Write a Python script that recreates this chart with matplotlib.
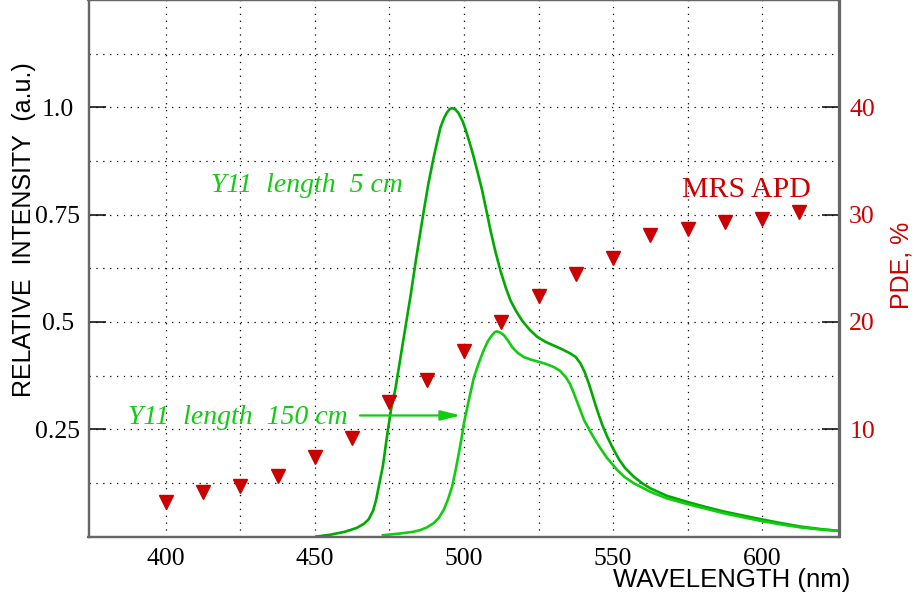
import matplotlib
matplotlib.use("Agg")
import matplotlib.pyplot as plt

# ---------------- data ----------------
wl_5cm = [450.5, 455, 460, 464, 466.5, 468, 469.5, 470.5, 471.5, 472.8, 474.4, 475.5, 477,
          479.7, 482, 484, 486.3, 488, 489.6, 491, 492.1, 493.3, 494.3, 495.2, 496,
          497, 498.2, 499.5, 500.5, 502, 503.3, 504.7, 506.1, 507.5, 508.9, 510.5,
          512.2, 514, 515.6, 517.5, 519.5, 522, 524.6, 527.5, 530.1, 533, 535.8,
          537.5, 539.1, 540.5, 541.9, 543.3, 544.7, 546.4, 548.1, 550, 552, 554,
          557, 560, 562.6, 568, 574.7, 581, 587.3, 593.5, 599.8, 606.5, 613.1, 620, 626]
int_5cm = [0.0, 0.004, 0.011, 0.020, 0.030, 0.040, 0.060, 0.085, 0.12, 0.165, 0.245, 0.295, 0.345,
           0.46, 0.558, 0.65, 0.75, 0.82, 0.876, 0.92, 0.953, 0.975, 0.988, 0.996, 0.998,
           0.996, 0.986, 0.968, 0.949, 0.915, 0.883, 0.845, 0.806, 0.76, 0.713, 0.665,
           0.62, 0.58, 0.55, 0.525, 0.503, 0.482, 0.465, 0.453, 0.445, 0.436, 0.426,
           0.418, 0.403, 0.383, 0.356, 0.325, 0.294, 0.26, 0.232, 0.205, 0.18, 0.16,
           0.139, 0.123, 0.112, 0.095, 0.081, 0.069, 0.058, 0.049, 0.040, 0.031, 0.023, 0.017, 0.013]

wl_150cm = [472.8, 478.6, 483, 485.3, 487.5, 489.8, 491.5, 493.2, 494.7, 496, 497.2,
            498.3, 499.2, 500, 501.6, 503.3, 505, 506.6, 508, 509.4, 510.3, 511.1,
            512.2, 513.4, 514.8, 516.2, 518, 520.1, 522.5, 524.6, 527.5, 530.1, 532.2,
            534.1, 535.6, 536.9, 538.6, 540.3, 542.5, 544.7, 546.5, 548, 551.4, 554,
            557, 562.6, 568, 574.7, 581, 587.3, 593.5, 599.8, 606.5, 613.1, 620, 626]
int_150cm = [0.003, 0.007, 0.011, 0.015, 0.021, 0.031, 0.043, 0.062, 0.088, 0.116, 0.155,
             0.195, 0.23, 0.265, 0.317, 0.37, 0.405, 0.434, 0.455, 0.469, 0.476, 0.478,
             0.475, 0.469, 0.456, 0.441, 0.428, 0.418, 0.412, 0.408, 0.402, 0.395, 0.386,
             0.372, 0.355, 0.333, 0.302, 0.271, 0.243, 0.217, 0.198, 0.183, 0.155, 0.138,
             0.124, 0.104, 0.089, 0.076, 0.065, 0.054, 0.045, 0.036, 0.028, 0.021, 0.016, 0.013]

wl_pde = [400, 412.5, 425, 437.5, 450, 462.5, 475, 487.5, 500, 512.5, 525, 537.5,
          550, 562.5, 575, 587.5, 600, 612.5]
pde = [3.2, 4.15, 4.75, 5.6, 7.4, 9.2, 12.5, 14.6, 17.3, 20.0, 22.4, 24.5,
       26.0, 28.1, 28.7, 29.35, 29.6, 30.25]

x_ticks = [400, 450, 500, 550, 600]
x_grid = [400, 425, 450, 475, 500, 525, 550, 575, 600]
y_ticks = [0.25, 0.5, 0.75, 1.0]
y_tick_labels = ["0.25", "0.5", "0.75", "1.0"]
y_minor = [0.125, 0.375, 0.625, 0.875, 1.125]
pde_ticks = [10, 20, 30, 40]

# ---------------- style ----------------
W, H = 914, 603
SERIF = "Liberation Serif"
SANS = "Liberation Sans"
GREEN_DARK = "#00aa00"
GREEN = "#11cc11"
RED = "#cc0000"
TICK_FS = 18.5

fig = plt.figure(figsize=(W / 100, H / 100), dpi=100)
left, right, bottom, top = 88.5, 839.5, 536.5, 0.0
ax = fig.add_axes([left / W, (H - bottom) / H, (right - left) / W, (bottom - top) / H])

ax.set_xlim(374, 626)
ax.set_ylim(0, 1.25)

# grid
for xv in x_grid:
    ax.axvline(xv, color="black", lw=0.9, dashes=(1, 4.5), zorder=0)
for yv in y_ticks + y_minor:
    ax.axhline(yv, color="black", lw=0.9, dashes=(1, 4.5), zorder=0)

ax.plot(wl_5cm, int_5cm, color=GREEN_DARK, lw=1.9, zorder=3, solid_joinstyle="round")
ax.plot(wl_150cm, int_150cm, color=GREEN, lw=1.9, zorder=3, solid_joinstyle="round")

ax.set_xticks(x_ticks)
ax.set_xticklabels([str(v) for v in x_ticks], fontfamily=SERIF, fontsize=TICK_FS)
ax.tick_params(axis="x", length=0, pad=8)
ax.set_yticks(y_ticks)
ax.set_yticklabels(y_tick_labels, fontfamily=SERIF, fontsize=TICK_FS, ha="center")
ax.tick_params(axis="y", direction="in", length=12, width=1.1, color="black", pad=22)

for s in ax.spines.values():
    s.set_color("#666666")
    s.set_linewidth(1.6)

ax2 = ax.twinx()
ax2.set_ylim(0, 50)
ax2.set_yticks(pde_ticks)
ax2.set_yticklabels([str(v) for v in pde_ticks], fontfamily=SERIF, fontsize=TICK_FS, color=RED)
ax2.tick_params(axis="y", direction="in", length=12, width=1.1, color="black", pad=7)
for s in ax2.spines.values():
    s.set_color("#666666")
    s.set_linewidth(1.6)
ax2.plot(wl_pde, pde, linestyle="none", marker="v", ms=9.5, color=RED,
         markeredgecolor=RED, zorder=4)

# annotations
ax.text(479.5, 0.802, "Y11  length  5 cm", family=SERIF, style="italic",
        fontsize=20, color=GREEN, ha="right", va="baseline")
ax.text(460.8, 0.2616, "Y11  length  150 cm", family=SERIF, style="italic",
        fontsize=20, color=GREEN, ha="right", va="baseline")
ax.annotate("", xy=(498.9, 0.282), xytext=(465.1, 0.282),
            arrowprops=dict(arrowstyle="-|>,head_length=1.2,head_width=0.3",
                            color=GREEN, lw=1.6, shrinkA=0, shrinkB=0))
ax2.text(616.4, 0.792 * 40, "MRS APD", family=SERIF, fontsize=21.5, color=RED,
         ha="right", va="baseline")

# axis titles
fig.text(24 / W, 1 - 230 / H, "RELATIVE  INTENSITY  (a.u.)", family=SANS, fontsize=18,
         rotation=90, ha="center", va="center", color="black")
fig.text(850 / W, 1 - 580 / H, "WAVELENGTH (nm)", family=SANS, fontsize=18.5,
         ha="right", va="center", color="black")
fig.text(902 / W, 1 - 265 / H, "PDE, %", family=SANS, fontsize=18, color=RED,
         rotation=90, ha="center", va="center")

fig.savefig("out.png", dpi=100)
